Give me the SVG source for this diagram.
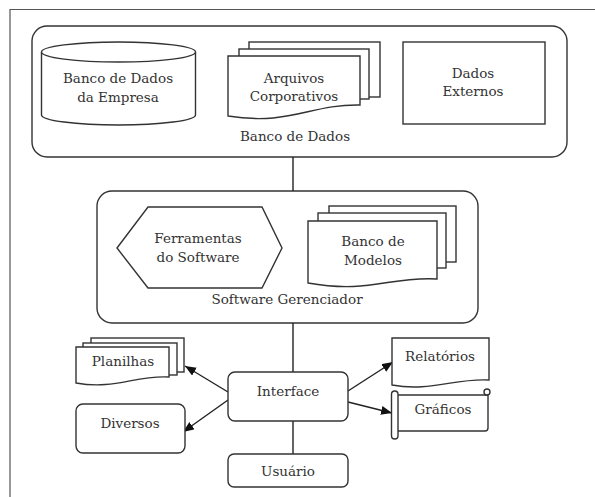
<svg xmlns="http://www.w3.org/2000/svg" width="595" height="497" viewBox="0 0 595 497">
<style>
.s{fill:#fff;stroke:#333;stroke-width:1.4}
text{font-family:'DejaVu Serif','Liberation Serif',serif;font-size:13.5px;fill:#333;text-anchor:middle}
.c{fill:none;stroke:#222;stroke-width:1.4}
</style>
<defs>
<marker id="ah" markerUnits="userSpaceOnUse" markerWidth="12" markerHeight="10" refX="11" refY="4.5" orient="auto">
<path d="M0,0 L11,4.5 L0,9 z" fill="#111"/>
</marker>
</defs>
<rect width="595" height="497" fill="#fff"/>
<path d="M10,497 V9.5 H595" fill="none" stroke="#555" stroke-width="1.2"/>

<g id="banco-dados">
<rect class="s" x="32" y="26" width="535" height="131" rx="15"/>
<text x="295" y="141">Banco de Dados</text>
</g>

<g id="banco-empresa">
<path class="s" d="M41.5,52 V115 A77,10 0 0 0 195.5,115 V52"/>
<ellipse class="s" cx="118.5" cy="52" rx="77" ry="10"/>
<text x="118" y="83">Banco de Dados</text>
<text x="118" y="102">da Empresa</text>
</g>

<g id="arquivos">
<rect class="s" x="249" y="42" width="131" height="55"/>
<rect class="s" x="239" y="49" width="130" height="50"/>
<path class="s" d="M228,56 H360 V105 C310,104 290,126 228,116 Z"/>
<text x="294" y="83">Arquivos</text>
<text x="294" y="101">Corporativos</text>
</g>

<g id="dados-externos">
<rect class="s" x="403" y="42" width="142" height="82" stroke-width="2"/>
<text x="473" y="78">Dados</text>
<text x="473" y="96">Externos</text>
</g>

<g id="software-gerenciador">
<rect class="s" x="97" y="191" width="381" height="132" rx="15"/>
<text x="287" y="304">Software Gerenciador</text>
</g>

<g id="ferramentas">
<polygon class="s" points="117,248 148,207 262,207 282,248 262,288 148,288"/>
<text x="198" y="243">Ferramentas</text>
<text x="198" y="262">do Software</text>
</g>

<g id="banco-modelos">
<rect class="s" x="329" y="206" width="127" height="56"/>
<rect class="s" x="318" y="213" width="128" height="55"/>
<path class="s" d="M308,221 H437 V279 C390,276 370,294 308,283 Z"/>
<text x="373" y="246">Banco de</text>
<text x="373" y="265">Modelos</text>
</g>

<g id="connectors">
<line class="c" x1="293" y1="157" x2="293" y2="191"/>
<line class="c" x1="293" y1="323" x2="293" y2="372"/>
<line class="c" x1="293" y1="421" x2="293" y2="454"/>
<line class="c" x1="228" y1="392" x2="185" y2="366" marker-end="url(#ah)"/>
<line class="c" x1="228" y1="400" x2="183" y2="432" marker-end="url(#ah)"/>
<line class="c" x1="348" y1="391" x2="393" y2="362" marker-end="url(#ah)"/>
<line class="c" x1="348" y1="402" x2="392" y2="413" marker-end="url(#ah)"/>
</g>

<g id="interface">
<rect class="s" x="228" y="372" width="120" height="49" rx="7"/>
<text x="288" y="396">Interface</text>
</g>

<g id="usuario">
<rect class="s" x="228" y="454" width="120" height="33" rx="6"/>
<text x="288" y="476">Usuário</text>
</g>

<g id="planilhas">
<rect class="s" x="91" y="338" width="93" height="34"/>
<rect class="s" x="83" y="343" width="94" height="32"/>
<path class="s" d="M76,347 H169 V377 C135,375 115,390 76,383 Z"/>
<text x="123" y="366">Planilhas</text>
</g>

<g id="diversos">
<rect class="s" x="76" y="404" width="109" height="49" rx="7"/>
<text x="130" y="428">Diversos</text>
</g>

<g id="relatorios">
<path class="s" d="M392,338 H489 V380 C455,378 430,392 392,385 Z"/>
<text x="440" y="361">Relatórios</text>
</g>

<g id="graficos">
<path class="s" d="M396,395 H488 V428 Q488,431 485,431 H396 Z"/>
<circle class="s" cx="487" cy="392" r="3"/>
<rect class="s" x="391.5" y="391" width="6.5" height="48" rx="3.2"/>
<text x="443" y="414">Gráficos</text>
</g>
</svg>
